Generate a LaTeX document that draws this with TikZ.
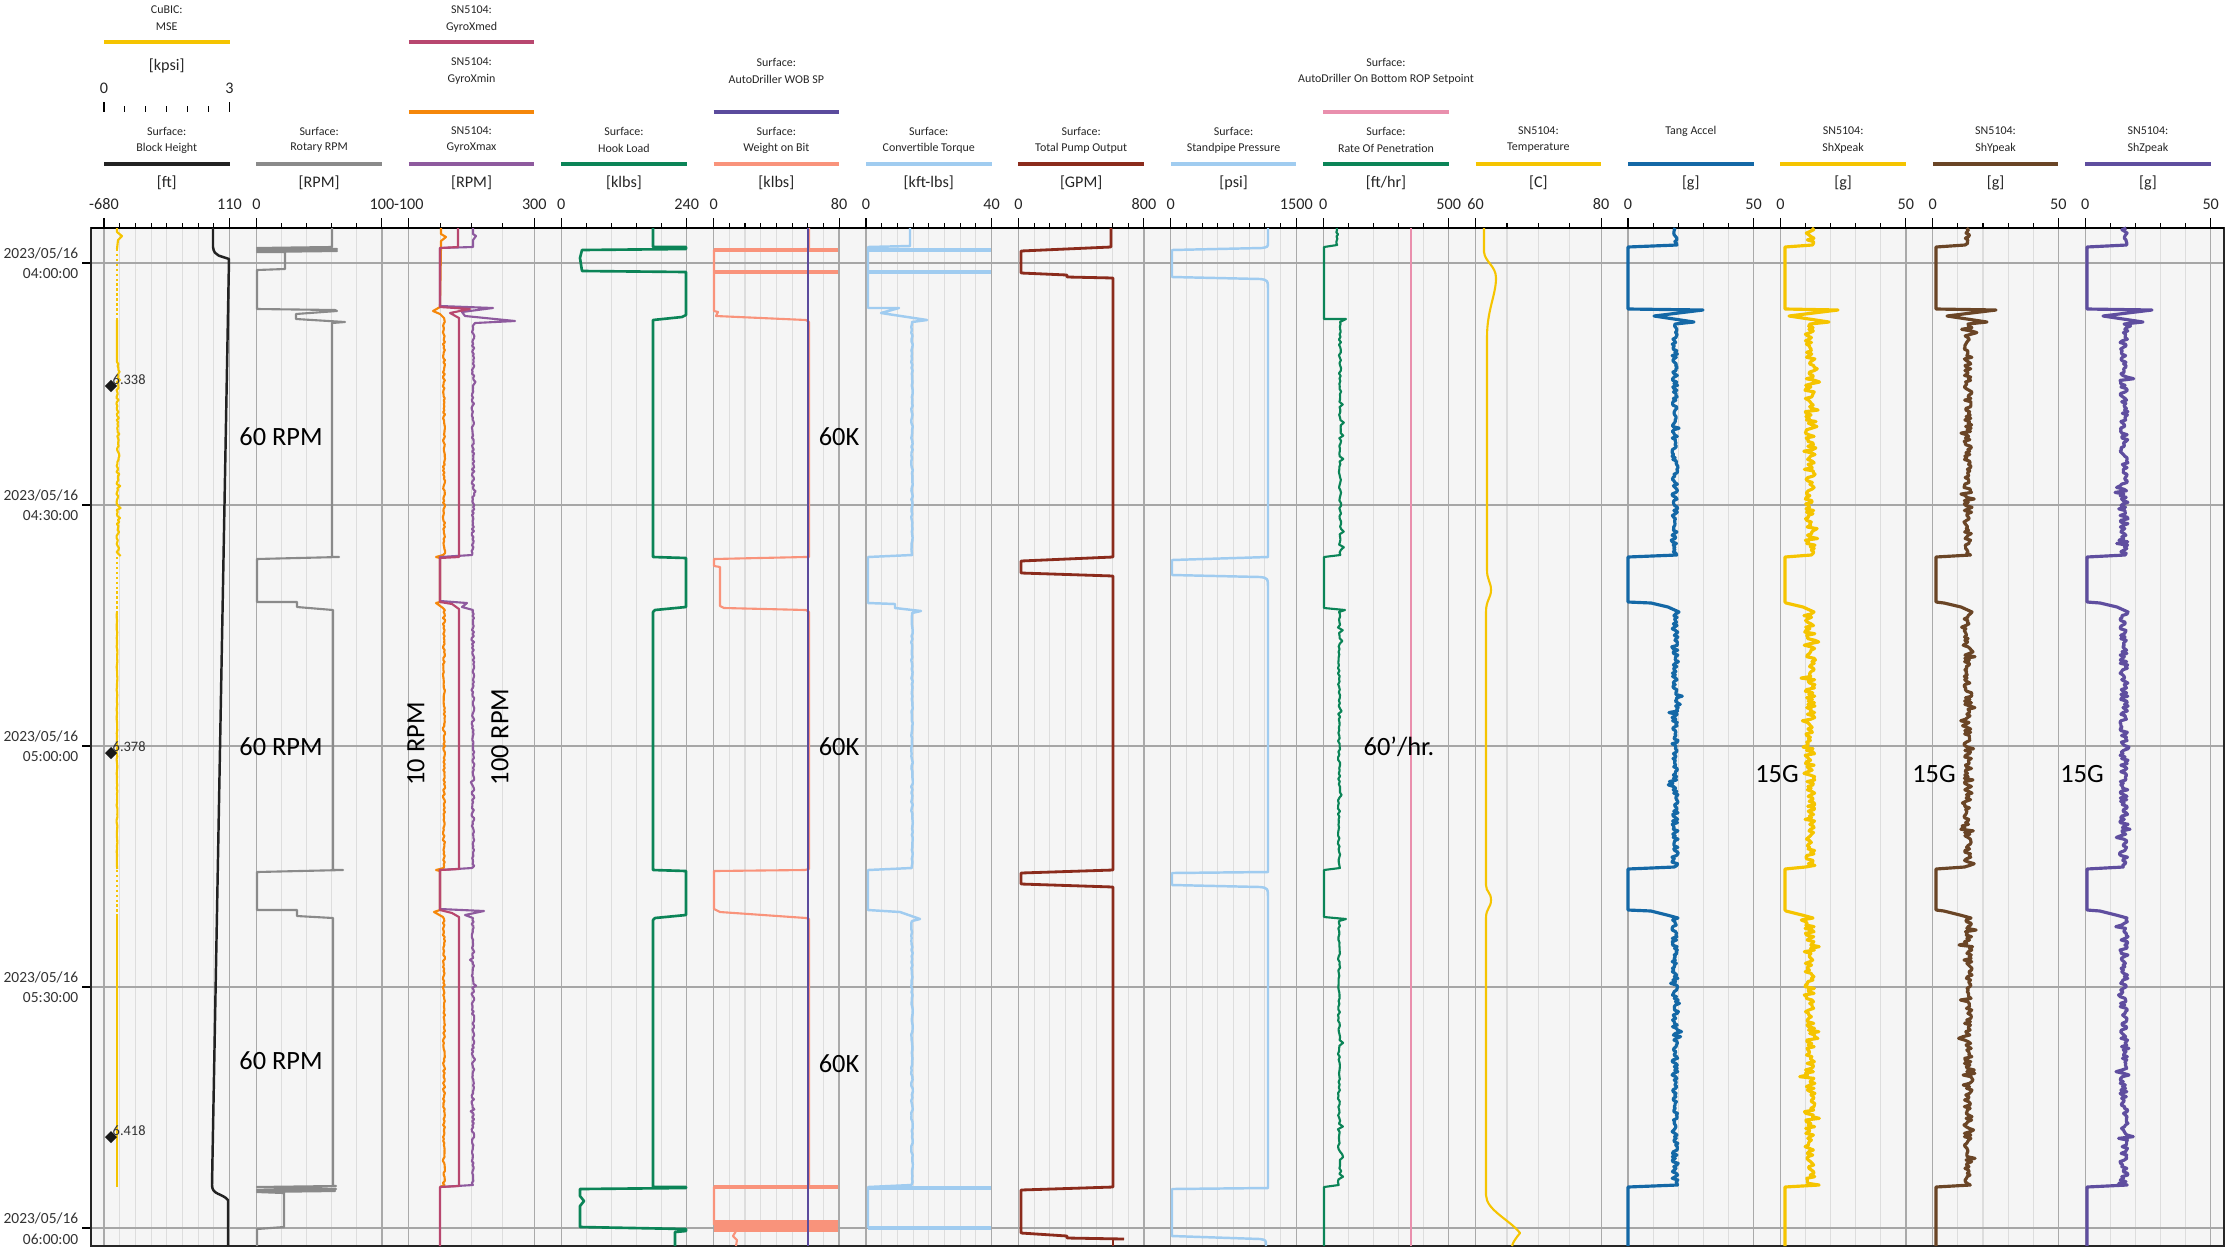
\documentclass[tikz,border=0pt]{standalone}
\usepackage{fontspec}
\setmainfont{Carlito}
\definecolor{cMSE}{HTML}{F5C400}
\definecolor{cBlock}{HTML}{222222}
\definecolor{cRpm}{HTML}{8A8A8A}
\definecolor{cGmax}{HTML}{8E5A9E}
\definecolor{cGmed}{HTML}{B8476F}
\definecolor{cGmin}{HTML}{F5870A}
\definecolor{cHook}{HTML}{0B8457}
\definecolor{cWob}{HTML}{F9937B}
\definecolor{cWobSP}{HTML}{5B4B9D}
\definecolor{cTorq}{HTML}{A0CCF0}
\definecolor{cPump}{HTML}{8B2B1C}
\definecolor{cRopSP}{HTML}{E98FAD}
\definecolor{cTang}{HTML}{1468A6}
\definecolor{cShY}{HTML}{6A4526}
\definecolor{cShZ}{HTML}{5F4E9F}
\definecolor{plotbg}{HTML}{F5F5F5}
\definecolor{gridlt}{HTML}{DDDDDD}
\definecolor{griddk}{HTML}{AAAAAA}
\tikzstyle{hdr}=[inner sep=0pt, text=black!85, font=\fontsize{3.4}{4}\selectfont]
\tikzstyle{unit}=[inner sep=0pt, text=black!85, font=\fontsize{4.6}{5}\selectfont]
\tikzstyle{timelbl}=[inner sep=0pt, anchor=east, text=black!80, font=\fontsize{4.4}{5}\selectfont]
\tikzstyle{note}=[inner sep=0pt, font=\fontsize{7.5}{8}\selectfont]
\tikzstyle{small}=[inner sep=0pt, anchor=west, text=black!80, font=\fontsize{4.1}{5}\selectfont]
\tikzstyle{marker}=[fill=black!90, rotate=45, inner sep=0pt, minimum size=0.085cm]
\tikzstyle{bar}=[line width=1.4pt]
\tikzstyle{tick}=[line width=0.3pt, black]
\tikzstyle{trace}=[line width=0.6pt, line join=round]
\tikzstyle{accel}=[line width=0.9pt, line join=round]
\tikzstyle{slab}=[line width=1.3pt]

\newcommand\accelcurve[5]{%
	\pgfmathsetseed{#5}%
	\draw[accel, #4] plot[variable=\t, domain=228:245, samples=11] ({#2+0.8*#3*rand}, \t)
		-- (#1,247) -- (#1,309) -- ({#2+28},310) -- ({#2-21},316) -- ({#2+19},322) -- ({#2},324)
		-- plot[variable=\t, domain=326:555, samples=140] ({#2+#3*rand+1.6*#3*(rnd>0.85)*rand}, \t)
		-- (#1,557) -- (#1,602) -- ({#2-24},603) -- ({#2-7},607) -- ({#2+4},612)
		-- plot[variable=\t, domain=614:867, samples=155] ({#2+#3*rand+1.6*#3*(rnd>0.85)*rand}, \t)
		-- (#1,869) -- (#1,910) -- ({#2-24},911) -- ({#2-8},915) -- ({#2+3},918)
		-- plot[variable=\t, domain=920:1185, samples=160] ({#2+#3*rand+1.6*#3*(rnd>0.85)*rand}, \t)
		-- (#1,1187) -- (#1,1246);
}

\begin{document}
\begin{tikzpicture}[x=0.01cm, y=-0.01cm]
	\useasboundingbox (0,0) rectangle (2227,1248);

	\fill[plotbg] (91,228) rectangle (2224,1246);

	% tracks: header, scale and grid
	\foreach \i/\ta/\tb/\tu/\tlo/\thi/\tc/\tn in {
		0/Surface:/Block Height/[ft]/-680/110/cBlock/8,
		1/Surface:/Rotary RPM/[RPM]/0/100/cRpm/5,
		2/SN5104:/GyroXmax/[RPM]/-100/300/cGmax/4,
		3/Surface:/Hook Load/[klbs]/0/240/cHook/5,
		4/Surface:/Weight on Bit/[klbs]/0/80/cWob/8,
		5/Surface:/Convertible Torque/[kft-lbs]/0/40/cTorq/8,
		6/Surface:/Total Pump Output/[GPM]/0/800/cPump/8,
		7/Surface:/Standpipe Pressure/[psi]/0/1500/cTorq/8,
		8/Surface:/Rate Of Penetration/{[ft/hr]}/0/500/cHook/5,
		9/SN5104:/Temperature/[C]/60/80/cMSE/4,
		10/Tang Accel//[g]/0/50/cTang/5,
		11/SN5104:/ShXpeak/[g]/0/50/cMSE/5,
		12/SN5104:/ShYpeak/[g]/0/50/cShY/5,
		13/SN5104:/ShZpeak/[g]/0/50/cShZ/5} {
		\node[hdr] (ta\i) at ({166.75+152.4*\i},131) {\ta};
		\node[hdr] (tb\i) at ({166.75+152.4*\i},148) {\tb};
		\draw[bar, \tc] ({104+152.4*\i},164) -- ++(125.5,0);
		\node[unit] (tu\i) at ({166.75+152.4*\i},183) {\tu};
		\node[unit] (lo\i) at ({104+152.4*\i},204) {\tlo};
		\node[unit] (hi\i) at ({229.5+152.4*\i},204) {\thi};
		\foreach \k in {1,...,\tn} {
			\draw[gridlt, line width=0.3pt] ({104+152.4*\i+125.5*\k/\tn},228) -- ++(0,1018);
			\draw[tick] ({104+152.4*\i+125.5*\k/\tn},223) -- ++(0,5);
		}
		\draw[griddk, line width=0.35pt] ({104+152.4*\i},228) -- ++(0,1018);
		\draw[griddk, line width=0.35pt] ({229.5+152.4*\i},228) -- ++(0,1018);
		\draw[tick] ({104+152.4*\i},218) -- ++(0,10);
		\draw[tick] ({229.5+152.4*\i},218) -- ++(0,10);
	}

	% upper header rows
	\node[hdr] (c1) at (166.75,10) {CuBIC:};
	\node[hdr] (c2) at (166.75,27) {MSE};
	\draw[bar, cMSE] (104,42) -- (229.5,42);
	\node[unit] (c3) at (166.75,66) {[kpsi]};
	\node[unit] (c4) at (104,88) {0};
	\node[unit] (c5) at (229.5,88) {3};
	\foreach \k in {1,...,5}
		\draw[tick] ({104+125.5*\k/6},106) -- ++(0,6);
	\draw[tick] (104,102) -- (104,112) (229.5,102) -- (229.5,112);

	\node[hdr] (x1) at (471.55,10) {SN5104:};
	\node[hdr] (x2) at (471.55,27) {GyroXmed};
	\draw[bar, cGmed] (408.8,42) -- ++(125.5,0);
	\node[hdr] (x3) at (471.55,62) {SN5104:};
	\node[hdr] (x4) at (471.55,79) {GyroXmin};
	\draw[bar, cGmin] (408.8,112) -- ++(125.5,0);

	\node[hdr] (s1) at (776.35,62) {Surface:};
	\node[hdr] (s2) at (776.35,79) {AutoDriller WOB SP};
	\draw[bar, cWobSP] (713.6,112) -- ++(125.5,0);
	\node[hdr] (s3) at (1385.95,62) {Surface:};
	\node[hdr] (s4) at (1385.95,79) {AutoDriller On Bottom ROP Setpoint};
	\draw[bar, cRopSP] (1323.2,112) -- ++(125.5,0);

	% time axis
	\foreach \y/\h in {263/04:00:00, 505/04:30:00, 746/05:00:00, 987/05:30:00, 1228/06:00:00} {
		\draw[black!35, line width=0.4pt] (91,\y) -- (2224,\y);
		\draw[tick] (82,\y) -- (91,\y);
		\node[timelbl] (d\y) at (79,\y-10) {2023/05/16};
		\node[timelbl] (h\y) at (79,\y+11) {\h};
	}
	\draw[black!85, line width=0.45pt] (91,228) rectangle (2224,1246);
	\draw[black, line width=0.7pt] (91,228) -- (2224,228);

	% MSE
	\pgfmathsetseed{7}
	\draw[trace, cMSE] (117,228) -- (117,232) -- (122,236) -- (118,240) -- (117,249);
	\draw[trace, cMSE, dash pattern=on 0.7pt off 0.7pt] (117,249) -- (117,320);
	\draw[trace, cMSE] (117,320) -- (117,360)
		-- plot[variable=\t, domain=362:556, samples=98] ({117.5+1.1*rand+3*(rnd>0.8)*rnd}, \t);
	\draw[trace, cMSE, dash pattern=on 0.7pt off 0.7pt] (117,557) -- (117,612);
	\draw[trace, cMSE] plot[variable=\t, domain=612:869, samples=90] ({117+0.4*rand}, \t);
	\draw[trace, cMSE, dash pattern=on 0.7pt off 0.7pt] (117,870) -- (117,917);
	\draw[trace, cMSE] (117,917) -- (117,1187);
	\node[marker] (m1) at (111,386) {};
	\node[small] (v1) at (112,380) {6.338};
	\node[marker] (m2) at (111,753) {};
	\node[small] (v2) at (112,747) {6.378};
	\node[marker] (m3) at (111,1137) {};
	\node[small] (v3) at (112,1131) {6.418};

	% block height
	\draw[trace, cBlock, line width=0.7pt] (213,228) -- (213,247) .. controls (214,257) and (222,256) .. (229,259)
		-- (212,1185) .. controls (212,1195) and (222,1193) .. (228,1200) -- (228,1246);

	% rotary rpm
	\draw[trace, cRpm] (332,228) -- (332,247) -- (257,248) -- (337,249) -- (257,250) -- (337,251) -- (257,252)
		-- (285,252) -- (285,269) -- (257,270) -- (257,309) -- (335,310) -- (337,311) -- (296,314) -- (296,319)
		-- (345,322) -- (332,323) -- (332,557) -- (339,557) -- (257,559) -- (257,602) -- (297,602) -- (297,607)
		-- (333,610) -- (333,870) -- (343,870) -- (257,872) -- (257,910) -- (297,910) -- (297,916) -- (333,918)
		-- (333,1186) -- (336,1186) -- (257,1187) -- (336,1189) -- (257,1190) -- (335,1191) -- (257,1192)
		-- (284,1193) -- (284,1227) -- (257,1229) -- (257,1246);

	% gyro x
	\pgfmathsetseed{3}
	\draw[trace, cGmin] (441,228) -- (441,234) -- (446,237) -- (441,241) -- (441,247) -- (440,307) -- (433,311)
		-- (440,314) -- (444,318) -- plot[variable=\t, domain=320:555, samples=118] ({444+1.1*rand}, \t)
		-- (436,557) -- (440,558) -- (440,602) -- (436,603) -- (443,608)
		-- plot[variable=\t, domain=610:868, samples=130] ({444+1.1*rand}, \t)
		-- (436,870) -- (440,871) -- (440,910) -- (434,912) -- (443,917)
		-- plot[variable=\t, domain=919:1185, samples=134] ({444+1.1*rand}, \t) -- (440,1187);
	\draw[trace, cGmax] (473,228) -- (473,234) -- (476,236) -- (473,240) -- (473,247) -- (440,248) -- (440,306)
		-- (493,308) -- (462,312) -- (465,316) -- (515,321) -- (475,323)
		-- plot[variable=\t, domain=326:555, samples=116] ({473+1.3*rand+2*(rnd>0.9)*rand}, \t)
		-- (440,557) -- (440,601) -- (467,603) -- (462,607) -- (473,610)
		-- plot[variable=\t, domain=612:868, samples=129] ({473+1.3*rand+2*(rnd>0.9)*rand}, \t)
		-- (440,870) -- (440,909) -- (484,911) -- (465,915) -- (473,918)
		-- plot[variable=\t, domain=920:1185, samples=134] ({473+1.3*rand+2*(rnd>0.9)*rand}, \t) -- (440,1187);
	\draw[trace, cGmed] (458,228) -- (458,247) -- (440,248) -- (440,307) -- (470,309) -- (450,313) -- (459,318)
		-- (459,557) -- (440,558) -- (440,602) -- (452,604) -- (459,609) -- (459,869) -- (440,870) -- (440,910)
		-- (452,913) -- (459,917) -- (459,1186) -- (440,1187) -- (440,1246);

	% hook load
	\draw[trace, cHook, line width=0.75pt] (653,228) -- (653,247) -- (686,247) -- (686,249) -- (582,250) -- (580,258)
		-- (582,271) -- (686,272) -- (686,315) -- (682,317) -- (653,320) -- (653,557) -- (686,558) -- (686,607)
		-- (655,610) -- (653,612) -- (653,870) -- (686,871) -- (686,915) -- (655,918) -- (653,920) -- (653,1187)
		-- (686,1187) -- (686,1188) -- (580,1189) -- (580,1196) -- (584,1201) -- (580,1206) -- (580,1227)
		-- (686,1229) -- (686,1231) -- (675,1232) -- (675,1246);

	% weight on bit
	\draw[trace, cWob] (809,228) -- (809,249) -- (714,250) -- (714,311) -- (718,312) -- (716,316) -- (806,320)
		-- (809,322) -- (809,557) -- (805,557) -- (714,559) -- (714,566) -- (720,567) -- (720,606) -- (724,608)
		-- (806,610) -- (809,612) -- (809,869) -- (805,870) -- (714,871) -- (714,909) -- (720,912) -- (806,918)
		-- (809,919) -- (809,1187) -- (714,1187) -- (714,1225);
	\draw[slab, cWob] (714,250) -- (838,250) (714,272) -- (838,272) (714,1187) -- (838,1187)
		(714,1222) -- (838,1222) (714,1226) -- (838,1226) (714,1230) -- (838,1230);
	\draw[trace, cWob] (736,1231) -- (733,1236) -- (737,1240) -- (736,1246);
	\draw[cWobSP, line width=0.6pt] (808,228) -- (808,1246);

	% torque
	\pgfmathsetseed{5}
	\draw[trace, cTorq, line width=0.7pt] (910,228) -- (910,246) -- (868,247) -- (868,308) -- (899,308) -- (881,313)
		-- (927,320) -- (912,322) -- plot[variable=\t, domain=324:555, samples=80] ({912+0.8*rand}, \t)
		-- (868,557) -- (868,603) -- (895,604) -- (895,608) -- (921,611) -- (912,613)
		-- plot[variable=\t, domain=615:868, samples=85] ({912+0.8*rand}, \t)
		-- (868,870) -- (868,910) -- (900,912) -- (920,919) -- (912,921)
		-- plot[variable=\t, domain=923:1185, samples=88] ({912+0.8*rand}, \t) -- (868,1187) -- (868,1228);
	\draw[slab, cTorq] (868,250) -- (991,250) (868,272) -- (991,272) (868,1188) -- (991,1188) (868,1228) -- (991,1228);

	% pump output
	\draw[trace, cPump, line width=0.8pt] (1111,228) -- (1111,247) -- (1021,251) -- (1021,273) -- (1067,275)
		-- (1067,277) -- (1113,278) -- (1113,557) -- (1021,561) -- (1021,573) -- (1113,576) -- (1113,870)
		-- (1021,873) -- (1021,884) -- (1113,887) -- (1113,1187) -- (1021,1190) -- (1021,1233) -- (1067,1236)
		-- (1067,1238) -- (1124,1239);
	\draw[trace, cPump, line width=0.8pt] (1113,1239) -- (1113,1246);

	% standpipe
	\draw[trace, cTorq, line width=0.7pt] (1268,228) -- (1268,242) .. controls (1268,247) .. (1262,248) -- (1172,250)
		-- (1172,277) -- (1260,279) .. controls (1268,280) .. (1268,292) -- (1268,557) -- (1172,560) -- (1172,575)
		-- (1260,577) .. controls (1268,578) .. (1268,590) -- (1268,872) -- (1172,873) -- (1172,885)
		-- (1260,887) .. controls (1268,888) .. (1268,900) -- (1268,1188) -- (1172,1189) -- (1172,1236)
		-- (1260,1239) .. controls (1266,1240) .. (1266,1246);

	% rate of penetration
	\pgfmathsetseed{9}
	\draw[trace, cHook] plot[variable=\t, domain=228:245, samples=9] ({1337+1.2*rand}, \t) -- (1324,247)
		-- (1324,319) -- (1346,319) -- (1340,322)
		-- plot[variable=\t, domain=324:555, samples=90] ({1340+1.1*rand+3*(rnd>0.94)}, \t)
		-- (1324,557) -- (1324,608) -- (1345,610) -- (1339,612)
		-- plot[variable=\t, domain=614:868, samples=95] ({1339+1.1*rand+3*(rnd>0.94)}, \t)
		-- (1324,870) -- (1324,917) -- (1346,919) -- (1339,921)
		-- plot[variable=\t, domain=923:1185, samples=95] ({1339+1.1*rand+3*(rnd>0.94)}, \t)
		-- (1324,1187) -- (1324,1246);
	\draw[cRopSP, line width=0.6pt] (1411,228) -- (1411,1246);

	% temperature
	\draw[trace, cMSE] (1484,228) -- (1484,252) .. controls (1485,262) and (1496,266) .. (1496,278)
		.. controls (1496,295) and (1487,310) .. (1487,337) -- (1487,570)
		.. controls (1487,580) and (1491,582) .. (1491,590) .. controls (1491,598) and (1486,600) .. (1486,612)
		-- (1486,885) .. controls (1486,892) and (1491,892) .. (1491,900)
		.. controls (1491,908) and (1486,908) .. (1486,918) -- (1486,1195)
		.. controls (1486,1210) and (1510,1220) .. (1520,1233) .. controls (1516,1238) and (1513,1242) .. (1512,1246);

	% accelerations
	\accelcurve{1628}{1675}{3}{cTang}{11}
	\accelcurve{1785}{1810}{5}{cMSE}{12}
	\accelcurve{1936}{1968}{4}{cShY}{13}
	\accelcurve{2087}{2124}{4}{cShZ}{14}

	% notes
	\node[note] (r1) at (281,437) {60 RPM};
	\node[note] (r2) at (281,747) {60 RPM};
	\node[note] (r3) at (281,1061) {60 RPM};
	\node[note, rotate=90] (g1) at (416,744) {10 RPM};
	\node[note, rotate=90] (g2) at (500,737) {100 RPM};
	\node[note] (w1) at (839,437) {60K};
	\node[note] (w2) at (839,747) {60K};
	\node[note] (w3) at (839,1064) {60K};
	\node[note] (p1) at (1399,747) {60’/hr.};
	\node[note] (a1) at (1777,774) {15G};
	\node[note] (a2) at (1934,774) {15G};
	\node[note] (a3) at (2082,774) {15G};
\end{tikzpicture}
\end{document}
